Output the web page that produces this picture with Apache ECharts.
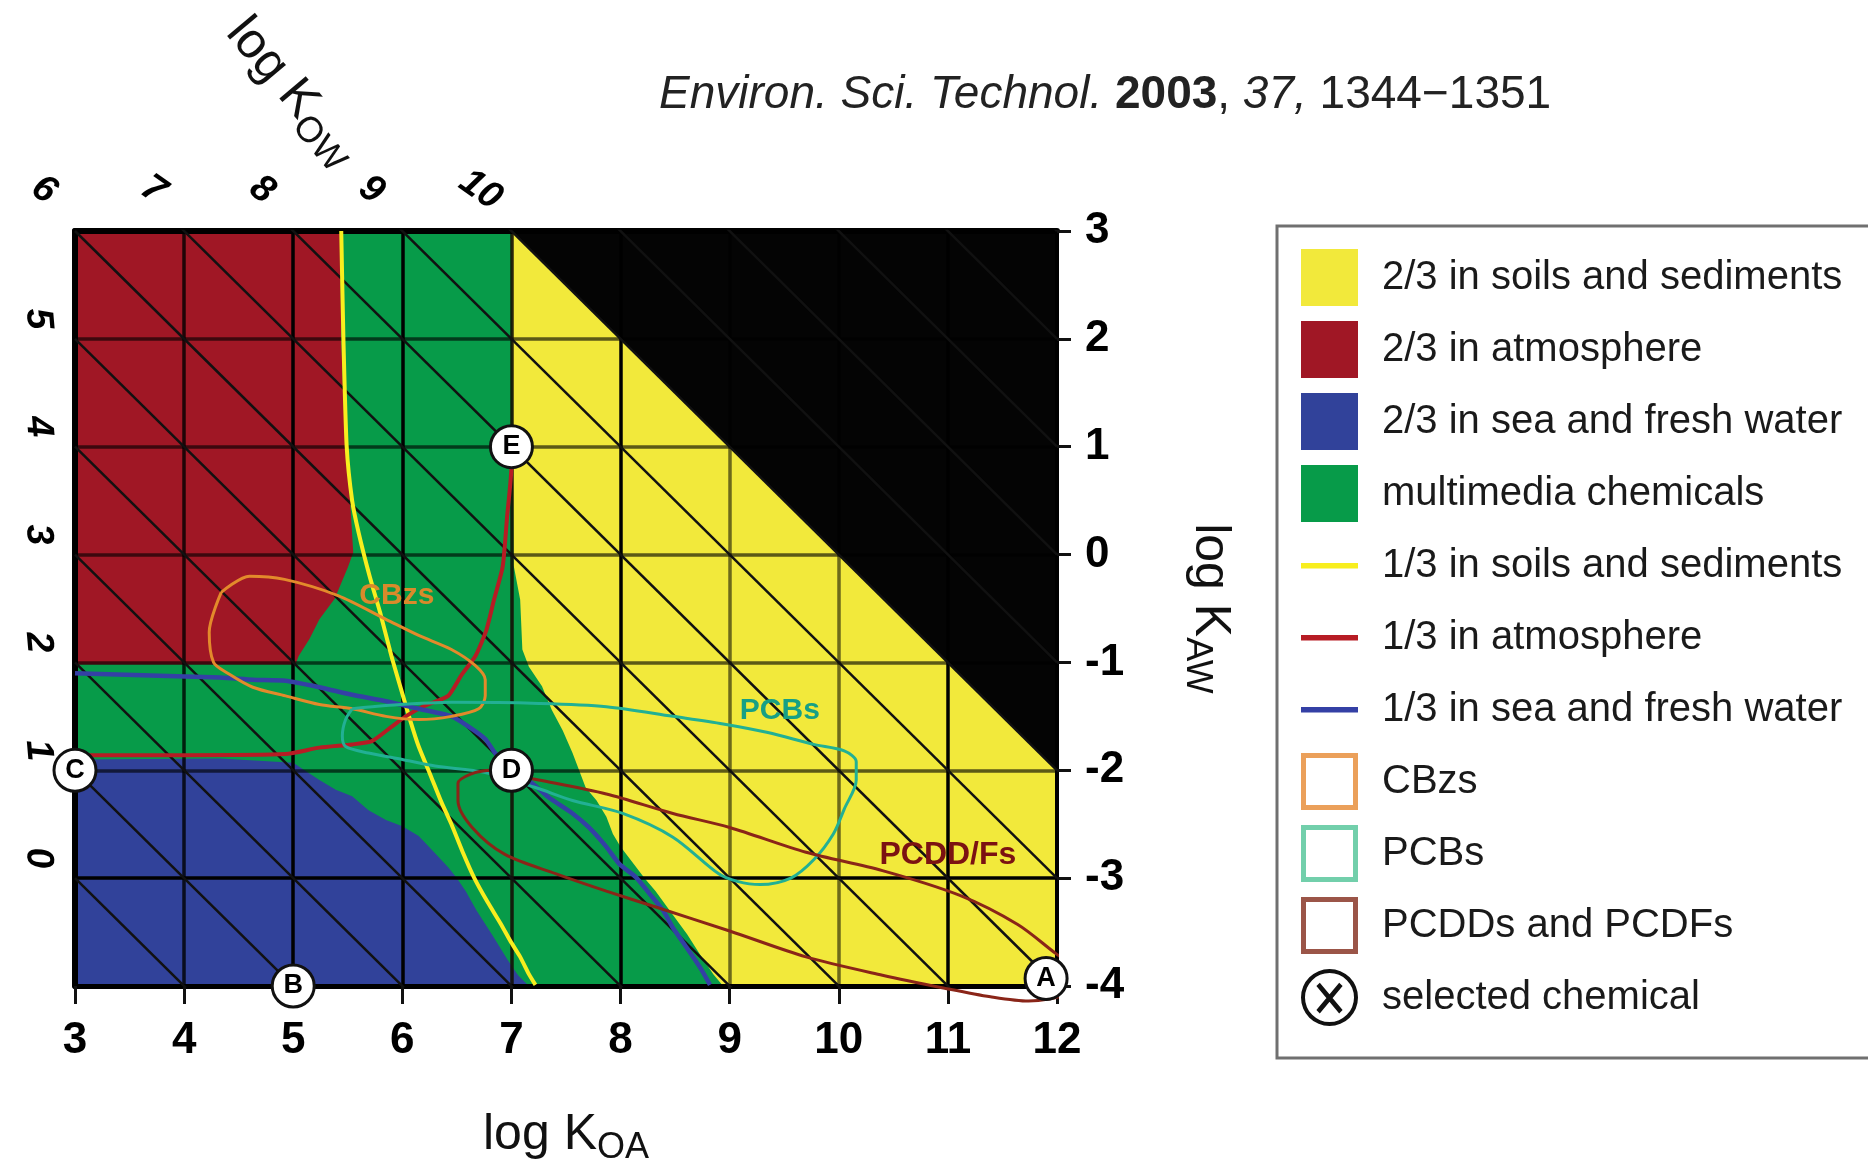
<!DOCTYPE html>
<html>
<head>
<meta charset="utf-8">
<script src="https://cdn.jsdelivr.net/npm/echarts@6/dist/echarts.min.js"></script>
<style>html,body{margin:0;padding:0;background:#fff}#chart{width:1868px;height:1161px}</style>
</head>
<body>
<div id="chart"></div>
<script>
// ---------------- data (log KOA, log KAW) ----------------
const KOA_MIN = 3, KOA_MAX = 12, KAW_MIN = -4, KAW_MAX = 3;
const KOW_TOP_LABELS = [6, 7, 8, 9, 10];
const KOW_LEFT_LABELS = [5, 4, 3, 2, 1, 0];
const KOW_LINES = [0, 1, 2, 3, 4, 5, 6, 7, 8, 9, 10, 11, 12, 13, 14, 15];

const REGION_MULTIMEDIA = [[3, 3], [12, 3], [12, -4], [3, -4]];
const REGION_SOIL = [[7, 3], [12, 3], [12, -4], [8.94, -4], [8.85, -3.89], [8.73, -3.71], [8.61, -3.52], [8.45, -3.3], [8.32, -3.12], [8.22, -3.0], [8.1, -2.84], [8.0, -2.71], [7.93, -2.59], [7.87, -2.43], [7.78, -2.28], [7.68, -2.16], [7.62, -2.0], [7.56, -1.84], [7.47, -1.63], [7.37, -1.44], [7.28, -1.22], [7.16, -1.04], [7.1, -0.88], [7.08, -0.42], [7.02, -0.1], [7, 3]];
const REGION_KOW10 = [[7, 3], [12, 3], [12, -2]];
const REGION_AIR = [[3, 3], [5.43, 3], [5.44, 2], [5.46, 1.44], [5.48, 1], [5.52, 0.52], [5.55, 0.02], [5.5, -0.12], [5.38, -0.41], [5.24, -0.6], [5.15, -0.78], [5.05, -0.94], [5.02, -1.02], [3, -1.02]];
const REGION_WATER = [[3, -1.9], [4.33, -1.89], [5.0, -1.93], [5.09, -1.99], [5.24, -2.09], [5.39, -2.18], [5.54, -2.24], [5.69, -2.37], [5.85, -2.46], [6.0, -2.52], [6.15, -2.61], [6.3, -2.77], [6.42, -2.9], [6.5, -3.0], [6.58, -3.12], [6.68, -3.3], [6.82, -3.52], [6.96, -3.75], [7.06, -3.9], [7.16, -4], [3, -4]];

const LINE_SOIL = [[5.44, 3], [5.46, 2], [5.49, 1], [5.54, 0.5], [5.6, 0.2], [5.7, -0.2], [5.8, -0.55], [5.9, -0.94], [5.98, -1.22], [6.07, -1.53], [6.15, -1.78], [6.26, -2.05], [6.36, -2.3], [6.45, -2.5], [6.55, -2.75], [6.66, -3.0], [6.78, -3.22], [6.9, -3.42], [7.0, -3.6], [7.08, -3.73], [7.16, -3.89], [7.22, -3.99]];
const LINE_AIR = [[7.0, 1.0], [7.0, 0.82], [6.96, 0.35], [6.92, -0.11], [6.84, -0.42], [6.77, -0.7], [6.67, -0.94], [6.54, -1.12], [6.42, -1.31], [6.21, -1.4], [6.03, -1.5], [5.91, -1.59], [5.72, -1.73], [5.54, -1.76], [5.24, -1.79], [4.93, -1.85], [4.0, -1.86], [3.0, -1.86]];
const LINE_WATER = [[3, -1.1], [4.33, -1.14], [4.63, -1.16], [4.93, -1.17], [5.24, -1.23], [5.54, -1.3], [5.85, -1.36], [6.15, -1.43], [6.45, -1.5], [6.6, -1.59], [6.76, -1.71], [6.85, -1.84], [7.0, -2.0], [7.19, -2.12], [7.34, -2.25], [7.56, -2.4], [7.71, -2.53], [7.87, -2.71], [7.99, -2.87], [8.14, -2.99], [8.27, -3.15], [8.39, -3.3], [8.48, -3.46], [8.61, -3.65], [8.73, -3.83], [8.82, -3.99]];

const CBZ = [[4.34, -0.35], [4.6, -0.2], [4.92, -0.23], [5.41, -0.38], [5.85, -0.6], [6.15, -0.75], [6.45, -0.88], [6.67, -1.03], [6.76, -1.16], [6.76, -1.31], [6.7, -1.43], [6.45, -1.5], [6.15, -1.53], [5.85, -1.5], [5.54, -1.43], [5.24, -1.39], [4.93, -1.31], [4.63, -1.23], [4.4, -1.1], [4.27, -1.0], [4.23, -0.72], [4.34, -0.35]];
const PCB = [[5.54, -1.43], [5.85, -1.4], [6.45, -1.37], [7.25, -1.38], [7.87, -1.41], [8.48, -1.5], [8.94, -1.57], [9.35, -1.65], [9.77, -1.76], [10.05, -1.82], [10.16, -1.92], [10.16, -2.09], [10.05, -2.36], [9.95, -2.59], [9.77, -2.83], [9.56, -3.0], [9.28, -3.06], [9.07, -3.03], [8.9, -2.96], [8.48, -2.62], [8.02, -2.4], [7.56, -2.28], [7.22, -2.16], [6.76, -2.02], [6.3, -1.96], [6.0, -1.9], [5.69, -1.84], [5.48, -1.78], [5.45, -1.68], [5.48, -1.53], [5.54, -1.43]];
const PCDD = [[6.79, -2.0], [7.25, -2.09], [7.87, -2.22], [8.48, -2.4], [9.0, -2.53], [9.7, -2.76], [10.4, -2.93], [11.11, -3.16], [11.64, -3.43], [11.99, -3.70], [12.13, -3.8], [12.17, -3.94], [12.1, -4.07], [11.74, -4.14], [11.39, -4.1], [10.97, -4.02], [10.4, -3.9], [9.7, -3.73], [9.0, -3.49], [8.33, -3.27], [7.87, -3.12], [7.41, -2.96], [6.94, -2.78], [6.64, -2.53], [6.51, -2.28], [6.51, -2.12], [6.64, -2.03], [6.79, -2.0]];

const GROUP_LABELS = ['CBzs', 'PCBs', 'PCDD/Fs'];
const GROUP_LABEL_KOA = [5.95, 9.46, 11.0];
const GROUP_LABEL_KAW = [-0.38, -1.45, -2.79];

const CHEM_NAMES = ['A', 'B', 'C', 'D', 'E'];
const CHEM_KOA = [11.9, 5, 3, 7, 7];
const CHEM_KAW = [-3.93, -4, -2, -2, 1];

// ---------------- style ----------------
const FONT = "'Liberation Sans', Arial, Helvetica, sans-serif";
const COL = {
  yellow: '#f2e93b', red: '#a01725', blue: '#31429a', green: '#079b49', black: '#040404',
  lineSoil: '#f8ee1e', lineAir: '#b71c24', lineWater: '#3440a5',
  cbz: '#e38a2b', pcb: '#22b094', pcdd: '#8a2518'
};
const GROUP_LABEL_STYLE = [
  { color: '#d98a2b', fontWeight: 'bold', fontSize: 30 },
  { color: '#17a085', fontWeight: 'bold', fontSize: 30 },
  { color: '#7b1212', fontWeight: 'bold', fontSize: 32 }
];
const X_GRID_COLORS = ['#000', 'rgba(0,0,0,0.8)', '#000', '#000', 'rgba(20,15,5,0.9)', '#000', 'rgba(0,0,0,0.55)', 'rgba(0,0,0,0.55)', '#000', '#000'];
const Y_GRID_COLORS = ['#000', '#000', 'rgba(0,0,0,0.62)', 'rgba(0,0,0,0.62)', 'rgba(0,0,0,0.62)', 'rgba(0,0,0,0.62)', 'rgba(0,0,0,0.62)', '#000'];

// label offsets are given on screen, then turned into the rotated label frame
function rotatedOffset(dx, dy, deg) {
  const r = deg * Math.PI / 180, c = Math.cos(r), s = Math.sin(r);
  return [dx * c - dy * s, dx * s + dy * c];
}

function polySeries(name, pts, color) {
  return {
    type: 'custom', name: name, coordinateSystem: 'cartesian2d', z: 1, silent: true,
    data: pts, encode: { x: 0, y: 1 }, itemStyle: { color: color },
    renderItem: function (params, api) {
      if (params.dataIndex !== 0) return null;
      return { type: 'polygon', shape: { points: pts.map(function (p) { return api.coord(p); }) }, style: { fill: color } };
    }
  };
}
function curveSeries(name, pts, color, width, z, smooth) {
  return {
    type: 'line', name: name, data: pts, z: z, clip: false, silent: true, smooth: smooth,
    symbol: 'none', showSymbol: false, lineStyle: { color: color, width: width }, itemStyle: { color: color }
  };
}

const series = [];
series.push(polySeries('multimedia chemicals', REGION_MULTIMEDIA, COL.green));
series.push(polySeries('2/3 in soils and sediments', REGION_SOIL, COL.yellow));
series.push(polySeries('log KOW > 10', REGION_KOW10, COL.black));
series.push(polySeries('2/3 in atmosphere', REGION_AIR, COL.red));
series.push(polySeries('2/3 in sea and fresh water', REGION_WATER, COL.blue));
KOW_LINES.forEach(function (k) {
  series.push({
    type: 'line', name: 'kow' + k, data: [[KOA_MIN, k - KOA_MIN], [KOA_MAX, k - KOA_MAX]], clip: true, silent: true,
    z: 4, symbol: 'none', lineStyle: { color: '#111', width: 2.5 }
  });
});
series.push(curveSeries('1/3 in soils and sediments', LINE_SOIL, COL.lineSoil, 4, 5, 0.2));
series.push(curveSeries('1/3 in atmosphere', LINE_AIR, COL.lineAir, 4, 5, 0.2));
series.push(curveSeries('1/3 in sea and fresh water', LINE_WATER, COL.lineWater, 4.5, 5, 0.2));
series.push(curveSeries('CBzs', CBZ, COL.cbz, 3, 6, 0.3));
series.push(curveSeries('PCBs', PCB, COL.pcb, 3, 6, 0.3));
series.push(curveSeries('PCDDs and PCDFs', PCDD, COL.pcdd, 3, 6, 0.3));
series.push({
  type: 'scatter', name: 'group labels', silent: true, z: 7, clip: false, symbol: 'circle', symbolSize: 1,
  itemStyle: { color: 'rgba(0,0,0,0)', opacity: 1 },
  data: GROUP_LABELS.map(function (g, i) {
    return { value: [GROUP_LABEL_KOA[i], GROUP_LABEL_KAW[i], g], label: GROUP_LABEL_STYLE[i] };
  }),
  label: { show: true, position: 'inside', formatter: function (p) { return p.value[2]; }, fontSize: 32, fontFamily: FONT }
});
series.push({
  type: 'scatter', name: 'selected chemical', z: 10, clip: false, silent: true, symbol: 'circle', symbolSize: 42,
  data: CHEM_NAMES.map(function (c, i) { return [CHEM_KOA[i], CHEM_KAW[i], c]; }),
  itemStyle: { color: '#fff', borderColor: '#111', borderWidth: 3, opacity: 1 },
  label: { show: true, position: 'inside', formatter: function (p) { return p.value[2]; }, fontSize: 27, fontWeight: 'bold', color: '#000', fontFamily: FONT }
});
const TOP_ROT = -35, LEFT_ROT = -85;
series.push({
  type: 'scatter', name: 'kowTop', silent: true, z: 9, clip: false, symbol: 'circle', symbolSize: 1,
  itemStyle: { color: 'rgba(0,0,0,0)', opacity: 1 },
  data: KOW_TOP_LABELS.map(function (k) { return [k - KAW_MAX, KAW_MAX, k]; }),
  label: { show: true, position: 'inside', offset: rotatedOffset(-31, -41, TOP_ROT), rotate: TOP_ROT, formatter: function (p) { return String(p.value[2]); }, fontSize: 38, fontWeight: 'bold', fontStyle: 'italic', color: '#000', fontFamily: FONT }
});
series.push({
  type: 'scatter', name: 'kowLeft', silent: true, z: 9, clip: false, symbol: 'circle', symbolSize: 1,
  itemStyle: { color: 'rgba(0,0,0,0)', opacity: 1 },
  data: KOW_LEFT_LABELS.map(function (k) { return [KOA_MIN, k - KOA_MIN, k]; }),
  label: { show: true, position: 'inside', offset: rotatedOffset(-37, -20, LEFT_ROT), rotate: LEFT_ROT, formatter: function (p) { return String(p.value[2]); }, fontSize: 38, fontWeight: 'bold', fontStyle: 'italic', color: '#000', fontFamily: FONT }
});

// thin bar with invisible corner specks so the icon keeps the full item height
const LINE_ICON = 'path://M0,0L0.01,0L0,0.01Z M0,26H57V31.5H0Z M0,57L0.01,57L0,57.01Z';
// square frame drawn as a filled ring, so it keeps the same 57px footprint as the other icons
const FRAME_ICON = 'path://M0,0H57V57H0Z M5,5V52H52V5Z';
const CHEM_ICON = 'path://M0,50A50,50 0 1 1 100,50A50,50 0 1 1 0,50ZM7,50A43,43 0 1 0 93,50A43,43 0 1 0 7,50ZM27,30L33,24L73,72L67,78ZM67,24L73,30L33,78L27,72Z';

const subRich = function (size) {
  return { s: { fontSize: size, fontFamily: FONT, color: '#111', verticalAlign: 'top', padding: [26, 0, 0, 0] } };
};

const option = {
  animation: false,
  backgroundColor: '#ffffff',
  title: {
    text: '{i|Environ. Sci. Technol.} {b|2003}, {i|37,} 1344\u22121351',
    left: 654, top: 67,
    textStyle: {
      fontSize: 46, fontWeight: 'normal', color: '#222', fontFamily: FONT,
      rich: {
        i: { fontSize: 46, fontStyle: 'italic', color: '#222', fontFamily: FONT },
        b: { fontSize: 46, fontWeight: 'bold', color: '#222', fontFamily: FONT }
      }
    }
  },
  grid: { left: 75, top: 231, width: 982, height: 755, containLabel: false, outerBoundsMode: 'none' },
  legend: {
    orient: 'vertical', left: 1277, top: 226, itemWidth: 57, itemHeight: 57, itemGap: 15,
    padding: [23, 80, 32, 24], borderColor: '#707070', borderWidth: 3, backgroundColor: '#fff',
    selectedMode: false,
    textStyle: { fontSize: 40, color: '#1a1a1a', fontFamily: FONT, padding: [0, 0, 0, 19] },
    data: [
      { name: '2/3 in soils and sediments', icon: 'rect', itemStyle: { color: COL.yellow, borderWidth: 0 } },
      { name: '2/3 in atmosphere', icon: 'rect', itemStyle: { color: COL.red, borderWidth: 0 } },
      { name: '2/3 in sea and fresh water', icon: 'rect', itemStyle: { color: COL.blue, borderWidth: 0 } },
      { name: 'multimedia chemicals', icon: 'rect', itemStyle: { color: COL.green, borderWidth: 0 } },
      { name: '1/3 in soils and sediments', icon: LINE_ICON, itemStyle: { color: COL.lineSoil, borderWidth: 0 } },
      { name: '1/3 in atmosphere', icon: LINE_ICON, itemStyle: { color: COL.lineAir, borderWidth: 0 } },
      { name: '1/3 in sea and fresh water', icon: LINE_ICON, itemStyle: { color: COL.lineWater, borderWidth: 0 } },
      { name: 'CBzs', icon: FRAME_ICON, itemStyle: { color: '#eba05a', borderWidth: 0 } },
      { name: 'PCBs', icon: FRAME_ICON, itemStyle: { color: '#72cfab', borderWidth: 0 } },
      { name: 'PCDDs and PCDFs', icon: FRAME_ICON, itemStyle: { color: '#9b5548', borderWidth: 0 } },
      { name: 'selected chemical', icon: CHEM_ICON, itemStyle: { color: '#111', borderWidth: 0 } }
    ]
  },
  xAxis: [
    {
      type: 'value', min: KOA_MIN, max: KOA_MAX, interval: 1, position: 'bottom', z: 3,
      axisLine: { show: true, onZero: false, lineStyle: { color: '#000', width: 5 } },
      axisTick: { show: true, length: 18, lineStyle: { color: '#111', width: 3 } },
      axisLabel: { fontSize: 44, fontWeight: 'bold', color: '#000', margin: 33, fontFamily: FONT },
      splitLine: { show: true, lineStyle: { color: X_GRID_COLORS, width: 3.5 } },
      name: 'log K{s|OA}', nameLocation: 'middle', nameGap: 118,
      nameTextStyle: { fontSize: 50, color: '#111', fontFamily: FONT, rich: subRich(36) }
    },
    {
      type: 'value', min: KOA_MIN, max: KOA_MAX, interval: 1, position: 'top', z: 3,
      axisLine: { show: true, onZero: false, lineStyle: { color: '#000', width: 6 } },
      axisTick: { show: false }, axisLabel: { show: false }, splitLine: { show: false }
    }
  ],
  yAxis: [
    {
      type: 'value', min: KAW_MIN, max: KAW_MAX, interval: 1, position: 'right', z: 3,
      axisLine: { show: true, onZero: false, lineStyle: { color: '#000', width: 4 } },
      axisTick: { show: true, length: 14, lineStyle: { color: '#111', width: 3 } },
      axisLabel: { fontSize: 44, fontWeight: 'bold', color: '#000', margin: 28, fontFamily: FONT },
      splitLine: { show: true, lineStyle: { color: Y_GRID_COLORS, width: 3.5 } },
      name: 'log K{s|AW}', nameLocation: 'middle', nameRotate: -90, nameGap: 122,
      nameTextStyle: { fontSize: 50, color: '#111', fontFamily: FONT, rich: subRich(36) }
    },
    {
      type: 'value', min: KAW_MIN, max: KAW_MAX, interval: 1, position: 'left', z: 3,
      axisLine: { show: true, onZero: false, lineStyle: { color: '#000', width: 6 } },
      axisTick: { show: false }, axisLabel: { show: false }, splitLine: { show: false }
    }
  ],
  graphic: [
    {
      type: 'text', x: 292, y: 92, rotation: -50 * Math.PI / 180, z: 20,
      style: {
        text: 'log K{s|OW}', fontSize: 50, fontFamily: FONT, fill: '#111', align: 'center', verticalAlign: 'middle',
        rich: { s: { fontSize: 36, fontFamily: FONT, fill: '#111', color: '#111', verticalAlign: 'top', padding: [26, 0, 0, 0] } }
      }
    }
  ],
  series: series
};

const chart = echarts.init(document.getElementById('chart'), null, { renderer: 'canvas', width: 1868, height: 1161 });
chart.setOption(option);
</script>
</body>
</html>
